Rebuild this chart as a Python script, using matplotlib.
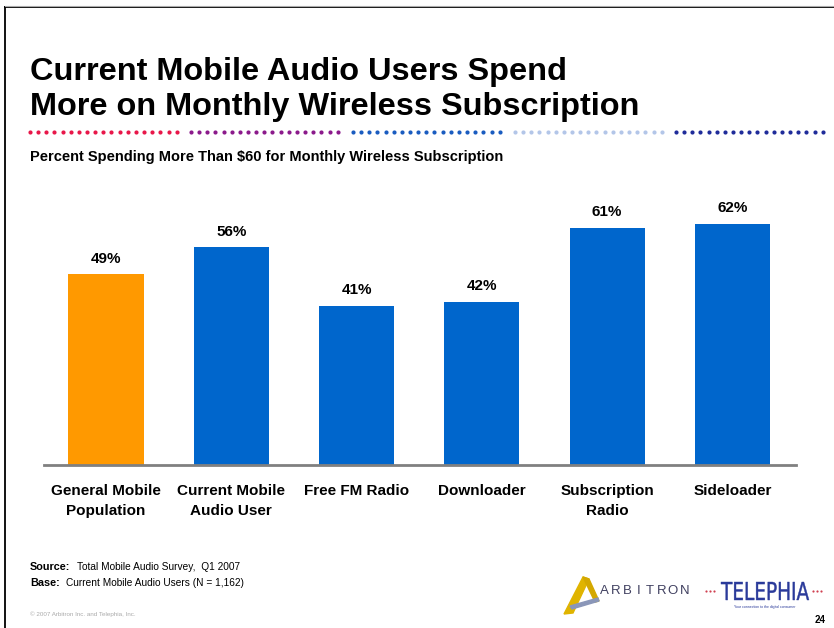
import numpy as np
import matplotlib.pyplot as plt
from matplotlib.lines import Line2D
from matplotlib.patches import Polygon, PathPatch
from matplotlib.textpath import TextPath
from matplotlib.font_manager import FontProperties
from matplotlib.transforms import Affine2D

plt.rcParams['font.family'] = ['Liberation Sans', 'DejaVu Sans']

categories = ["General Mobile\nPopulation", "Current Mobile\nAudio User", "Free FM Radio",
              "Downloader", "Subscription\nRadio", "Sideloader"]
values = [49, 56, 41, 42, 61, 62]
bar_colors = ["#FF9900", "#0066CC", "#0066CC", "#0066CC", "#0066CC", "#0066CC"]

dot_colors = ["#E8174A", "#8B1A8B", "#1A5CC0", "#B3C6E8", "#1F2C9A"]

W, H = 834, 628
fig = plt.figure(figsize=(W / 100, H / 100), dpi=100)


def fx(px):
    return px / W


def fy(py):
    return 1 - py / H


# slide border (left and top edges)
fig.add_artist(Line2D([fx(5), fx(5)], [fy(7), fy(628)], color="black", lw=1.3))
fig.add_artist(Line2D([fx(5), fx(834)], [fy(7), fy(7)], color="black", lw=1.3))
fig.add_artist(Line2D([fx(5), fx(834)], [fy(5.5), fy(5.5)], color="#aaaaaa", lw=0.8))

# title
fig.text(fx(30), fy(72), "Current Mobile Audio Users Spend", fontsize=23.4, fontweight="bold",
         va="center", ha="left", color="black")
fig.text(fx(30), fy(107), "More on Monthly Wireless Subscription", fontsize=23.4,
         fontweight="bold", va="center", ha="left", color="black")

# dotted divider under the title
dax = fig.add_axes([0, 0, 1, 1], zorder=-1)
dax.set_xlim(0, W)
dax.set_ylim(H, 0)
dax.axis("off")
starts = [30, 191, 353, 515, 676]
for s, c in zip(starts, dot_colors):
    xs = s + np.arange(19) * 8.15
    dax.scatter(xs, np.full_like(xs, 132), s=9, color=c, linewidths=0)

fig.text(fx(30), fy(157), "Percent Spending More Than $60 for Monthly Wireless Subscription",
         fontsize=10.5, fontweight="bold", va="center", ha="left")

# bar chart
ax = fig.add_axes([fx(44), fy(465), fx(796) - fx(44), fy(200) - fy(465)])
x = np.arange(len(values))
ax.bar(x, values, width=0.6, color=bar_colors, zorder=2)
ax.set_xlim(-0.495, 5.507)
ax.set_ylim(0, 265 / 3.89)
for xi, v in zip(x, values):
    ax.text(xi, v + 2.2, f"{v}%", ha="center", va="bottom", fontsize=11, fontweight="bold")
for side in ["top", "right", "left"]:
    ax.spines[side].set_visible(False)
ax.spines["bottom"].set_color("#808080")
ax.spines["bottom"].set_linewidth(2)
ax.set_yticks([])
ax.set_xticks(x)
ax.set_xticklabels(categories, fontsize=11, fontweight="bold", linespacing=1.55)
ax.tick_params(axis="x", length=0, pad=14)

# footnotes
fig.text(fx(30), fy(567), "Source:", fontsize=7.8, fontweight="bold", va="center", ha="left")
fig.text(fx(77), fy(567), "Total Mobile Audio Survey,  Q1 2007", fontsize=7.3, va="center",
         ha="left")
fig.text(fx(30), fy(583), "Base:", fontsize=7.8, fontweight="bold", va="center", ha="left")
fig.text(fx(66), fy(583), "Current Mobile Audio Users (N = 1,162)", fontsize=7.3,
         va="center", ha="left")
fig.text(fx(30), fy(614), "\u00a9 2007 Arbitron Inc. and Telephia, Inc.", fontsize=4.5,
         color="#aaaaaa", va="center", ha="left")
fig.text(fx(826), fy(620), "24", fontsize=7, fontweight="bold", va="center", ha="right")

# Arbitron logo mark
dax.add_patch(Polygon([[564, 614], [583, 577], [589, 579], [573, 613]], closed=True,
                      color="#E0B400"))
dax.add_patch(Polygon([[583, 577], [589, 579], [599, 601], [595, 602]], closed=True,
                      color="#D4A800"))
dax.add_patch(Polygon([[570, 606], [598, 598], [599, 601], [572, 609]], closed=True,
                      color="#8A96B8"))
for i, ch in enumerate("ARBITRON"):
    fig.text(fx(604 + i * 11.5), fy(591), ch, fontsize=9.5, color="#404060", va="center",
             ha="center")

# Telephia logo: condensed word drawn as a path squeezed into its box
tp = TextPath((0, 0), "TELEPHIA", size=1, prop=FontProperties(family="DejaVu Sans"))
ext = tp.get_extents()
x0, x1, top, base = 721, 809, 582, 600
tr = (Affine2D().translate(-ext.x0, -ext.y0)
      .scale((x1 - x0) / ext.width, -(base - top) / ext.height)
      .translate(x0, base))
dax.add_patch(PathPatch(tr.transform_path(tp), color="#2A3A9A", lw=0.3))
for xs in (np.arange(3) * 4 + 706, np.arange(3) * 4 + 813):
    dax.scatter(xs, np.full_like(xs, 591.0), s=2.5, color="#D04050", linewidths=0)
fig.text(fx(765), fy(607), "Your connection to the digital consumer", fontsize=2.5,
         color="#2A3A9A", va="center", ha="center")

fig.savefig("out.png", dpi=100)
